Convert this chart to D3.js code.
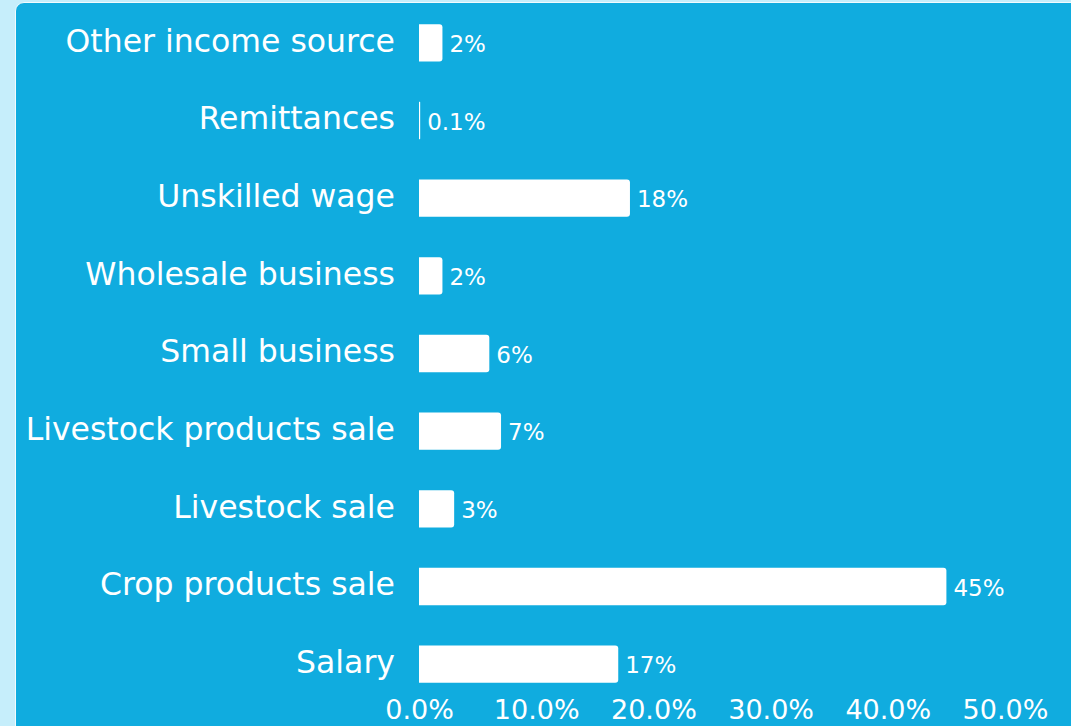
<!DOCTYPE html>
<html>
<head>
<meta charset="utf-8">
<script src="https://d3js.org/d3.v7.min.js"></script>
<style>
  html, body { margin: 0; padding: 0; background: #c6eefb; overflow: hidden; }
  #chart { position: absolute; left: 15px; top: 2px; width: 1070px; height: 740px;
           background: #10acdf; border: 1px solid #f2fbfe; border-radius: 9px; }
  svg { display: block; }
</style>
</head>
<body>
<div id="chart"></div>
<script>
var categories = ["Other income source", "Remittances", "Unskilled wage", "Wholesale business",
                  "Small business", "Livestock products sale", "Livestock sale", "Crop products sale", "Salary"];
var shares = [2, 0.1, 18, 2, 6, 7, 3, 45, 17];
var valueLabels = ["2%", "0.1%", "18%", "2%", "6%", "7%", "3%", "45%", "17%"];
var xTicks = [0, 10, 20, 30, 40, 50];

var margin = {top: 1, right: 0, bottom: 24, left: 403},
    width = 1071 - 16 - margin.left - margin.right,
    height = 726 - 2 - margin.top - margin.bottom;

var font = "DejaVu Sans, sans-serif";

var svg = d3.select("#chart").append("svg")
    .attr("width", 1071 - 16)
    .attr("height", 726)
  .append("g")
    .attr("transform", "translate(" + margin.left + "," + margin.top + ")");

var x = d3.scaleLinear().domain([0, 50]).range([0, 586]);
var y = d3.scaleBand().domain(categories).range([0, height]).paddingInner(0.52).paddingOuter(0.26);

// bars, rounded on the right end only
function barPath(d, i) {
  var w = Math.max(x(shares[i]), 1), h = y.bandwidth(), r = Math.min(3, w / 2);
  var y0 = y(d);
  return "M0," + y0 + "H" + (w - r) + "Q" + w + "," + y0 + " " + w + "," + (y0 + r) +
         "V" + (y0 + h - r) + "Q" + w + "," + (y0 + h) + " " + (w - r) + "," + (y0 + h) +
         "H0Z";
}

svg.selectAll(".bar")
    .data(categories)
    .enter().append("path")
    .attr("class", "bar")
    .attr("d", barPath)
    .style("fill", "#ffffff");

// value labels
svg.selectAll(".val")
    .data(categories)
    .enter().append("text")
    .attr("x", function(d, i) { return x(shares[i]) + 7; })
    .attr("y", function(d) { return y(d) + y.bandwidth() / 2 + 1; })
    .attr("dy", "0.35em")
    .style("font-family", font)
    .style("font-size", "23px")
    .style("fill", "#ffffff")
    .text(function(d, i) { return valueLabels[i]; });

// category axis
var yAxis = svg.append("g")
    .call(d3.axisLeft(y).tickSize(0).tickPadding(24));
yAxis.select(".domain").remove();
yAxis.selectAll("text")
    .attr("dy", "0.28em")
    .style("font-family", font)
    .style("font-size", "31.5px")
    .style("fill", "#ffffff");

// value axis
var xAxis = svg.append("g")
    .attr("transform", "translate(0," + height + ")")
    .call(d3.axisBottom(x).tickValues(xTicks).tickSize(0).tickPadding(-3)
      .tickFormat(function(d) { return d.toFixed(1) + "%"; }));
xAxis.select(".domain").remove();
xAxis.selectAll("text")
    .style("font-family", font)
    .style("font-size", "27px")
    .style("fill", "#ffffff");
</script>
</body>
</html>
